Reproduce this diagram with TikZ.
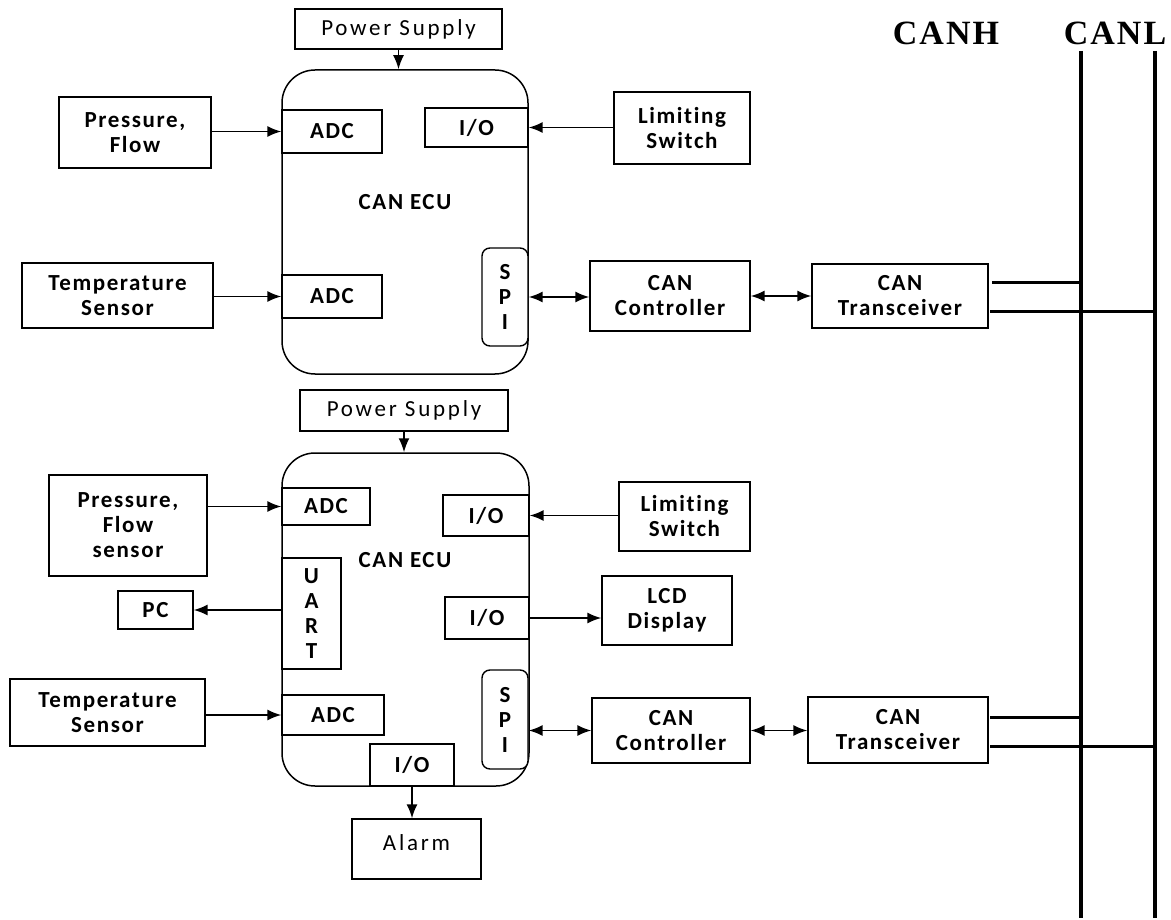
\documentclass[tikz,border=0pt]{standalone}
\usepackage{fontspec}
\newfontfamily\lblfont[LetterSpace=7,Ligatures=NoCommon]{Carlito}
\newfontfamily\plainfont[LetterSpace=12,Ligatures=NoCommon]{Carlito}
\newfontfamily\busfont[LetterSpace=6]{Liberation Serif}
\usetikzlibrary{arrows.meta}
\newcommand\boxnode[7]{\node[#1,minimum width={#5-#3},minimum height={#6-#4}] (#2) at ({(#3+#5)/2},{(#4+#6)/2}) {#7};}
\begin{document}
\begin{tikzpicture}[x=1pt,y=-1pt,
  box/.style={draw, fill=white, line width=1.4pt, inner sep=0pt, align=center,
    font=\lblfont\bfseries\fontsize{23}{25}\selectfont},
  plainbox/.style={box, font=\plainfont\fontsize{23}{25}\selectfont},
  ecu/.style={draw, line width=1.5pt, rounded corners=33pt, inner sep=0pt},
  spibox/.style={box, rounded corners=8pt},
  lbl/.style={inner sep=0pt, font=\lblfont\bfseries\fontsize{23}{25}\selectfont},
  buslbl/.style={inner sep=0pt, font=\busfont\bfseries\fontsize{34}{40}\selectfont},
  arr/.style={line width=1.6pt, -{Latex[length=14pt,width=11pt]}},
  biarr/.style={line width=1.6pt, {Latex[length=14pt,width=11pt]}-{Latex[length=14pt,width=11pt]}},
  wire/.style={line width=3pt},
  bus/.style={line width=4pt}]
\useasboundingbox[fill=white] (0,0) rectangle (1171,920);

% ---------- upper ECU ----------
\boxnode{ecu}{ecu1}{282}{70}{528}{374}{}
\boxnode{plainbox}{ps1}{295}{9}{502}{49}{Power Supply}
\boxnode{box}{adc1}{282}{110}{382}{153}{ADC}
\boxnode{box}{io1}{425}{108}{528}{147}{I/O}
\boxnode{box}{press1}{59}{97}{211}{168}{Pressure,\\Flow}
\boxnode{box}{limsw1}{614}{92}{750}{164}{Limiting\\Switch}
\boxnode{spibox}{spi1}{482}{248}{528}{346}{S\\P\\I}
\boxnode{box}{adc2}{282}{275}{382}{318}{ADC}
\boxnode{box}{temp1}{22}{263}{213}{328}{Temperature\\Sensor}
\boxnode{box}{ctrl1}{590}{261}{750}{331}{CAN\\Controller}
\boxnode{box}{trx1}{812}{264}{988}{328}{CAN\\Transceiver}
\node[lbl] (ecutxt1) at (405,202) {CAN ECU};

% ---------- lower ECU ----------
\boxnode{ecu}{ecu2}{282}{453}{529}{786}{}
\boxnode{plainbox}{ps2}{300}{390}{508}{431}{Power Supply}
\boxnode{box}{press2}{49}{475}{207}{576}{Pressure,\\Flow\\sensor}
\boxnode{box}{adc3}{282}{488}{370}{525}{ADC}
\boxnode{box}{io2}{443}{495}{529}{536}{I/O}
\boxnode{box}{limsw2}{619}{482}{750}{551}{Limiting\\Switch}
\boxnode{box}{uart}{282}{558}{341}{669}{U\\A\\R\\T}
\boxnode{box}{pc}{118}{591}{193}{629}{PC}
\node[lbl] (ecutxt2) at (405,560) {CAN ECU};
\boxnode{box}{io3}{445}{597}{529}{639}{I/O}
\boxnode{box}{lcd}{602}{576}{732}{645}{LCD\\Display}
\boxnode{spibox}{spi2}{482}{670}{528}{769}{S\\P\\I}
\boxnode{box}{adc4}{282}{695}{384}{735}{ADC}
\boxnode{box}{temp2}{10}{679}{205}{746}{Temperature\\Sensor}
\boxnode{box}{io4}{370}{744}{454}{786}{I/O}
\boxnode{plainbox,text depth=12pt}{alarm}{352}{819}{481}{879}{Alarm}
\boxnode{box}{ctrl2}{592}{698}{750}{763}{CAN\\Controller}
\boxnode{box}{trx2}{808}{697}{988}{763}{CAN\\Transceiver}

% ---------- CAN bus ----------
\node[buslbl] (lblH) at (946,33) {CANH};
\node[buslbl] (lblL) at (1115,33) {CANL};
\coordinate (hTop) at (1081,51);
\coordinate (hBot) at (1081,918);
\coordinate (lTop) at (1155,51);
\coordinate (lBot) at (1155,918);
\draw[bus] (hTop) -- (hBot);
\draw[bus] (lTop) -- (lBot);
\coordinate (w1h) at (992,283);
\coordinate (w1l) at (990,312);
\coordinate (w2h) at (990,717);
\coordinate (w2l) at (990,746);
\draw[wire] (w1h) -- (w1h -| hTop);
\draw[wire] (w1l) -- (w1l -| lTop);
\draw[wire] (w2h) -- (w2h -| hTop);
\draw[wire] (w2l) -- (w2l -| lTop);

% ---------- connectors, upper ----------
\draw[arr] (ps1.south) -- (ps1.south |- ecu1.north);
\draw[arr] (press1.east |- adc1.west) -- (adc1.west);
\draw[arr] (limsw1.west |- io1.east) -- (io1.east);
\draw[arr] (temp1.east |- adc2.west) -- (adc2.west);
\draw[biarr] (spi1.east) -- (ctrl1.west |- spi1.east);
\draw[biarr] (ctrl1.east) -- (trx1.west |- ctrl1.east);

% ---------- connectors, lower ----------
\draw[arr] (ps2.south) -- (ps2.south |- ecu2.north);
\draw[arr] (press2.east |- adc3.west) -- (adc3.west);
\draw[arr] (limsw2.west |- io2.east) -- (io2.east);
\draw[arr] (uart.west |- pc.east) -- (pc.east);
\draw[arr] (io3.east) -- (lcd.west |- io3.east);
\draw[arr] (temp2.east |- adc4.west) -- (adc4.west);
\draw[biarr] (spi2.east |- ctrl2.west) -- (ctrl2.west);
\draw[biarr] (ctrl2.east) -- (trx2.west |- ctrl2.east);
\draw[arr] (io4.south) -- (io4.south |- alarm.north);
\end{tikzpicture}
\end{document}
